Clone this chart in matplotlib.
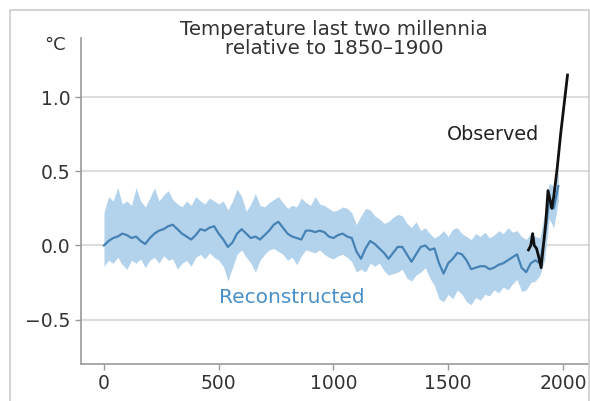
import matplotlib
matplotlib.use("Agg")
import matplotlib.pyplot as plt
from matplotlib.patches import Rectangle

years = list(range(0, 2000, 20))
recon_mean = [0.00, 0.03, 0.05, 0.06, 0.08, 0.07, 0.05, 0.06, 0.03, 0.01,
              0.05, 0.08, 0.10, 0.11, 0.13, 0.14, 0.11, 0.08, 0.06, 0.04,
              0.07, 0.11, 0.10, 0.12, 0.13, 0.08, 0.04, -0.01, 0.02, 0.08,
              0.11, 0.08, 0.05, 0.06, 0.04, 0.07, 0.10, 0.14, 0.16, 0.12,
              0.08, 0.06, 0.05, 0.04, 0.10, 0.10, 0.09, 0.10, 0.09, 0.06,
              0.05, 0.07, 0.08, 0.06, 0.05, -0.04, -0.09, -0.02, 0.03, 0.01,
              -0.02, -0.05, -0.09, -0.05, -0.01, -0.01, -0.06, -0.11, -0.06, -0.01,
              0.00, -0.03, -0.02, -0.12, -0.19, -0.12, -0.09, -0.05, -0.06, -0.10,
              -0.16, -0.15, -0.14, -0.14, -0.16, -0.15, -0.13, -0.12, -0.10, -0.08,
              -0.06, -0.15, -0.18, -0.12, -0.10, -0.12, 0.05, 0.30, 0.25, 0.40]
recon_upper = [0.22, 0.33, 0.30, 0.39, 0.28, 0.30, 0.27, 0.39, 0.30, 0.26,
               0.32, 0.39, 0.30, 0.34, 0.37, 0.31, 0.28, 0.26, 0.30, 0.27,
               0.33, 0.30, 0.28, 0.32, 0.30, 0.28, 0.30, 0.24, 0.30, 0.38,
               0.33, 0.23, 0.28, 0.35, 0.27, 0.26, 0.29, 0.31, 0.33, 0.29,
               0.25, 0.27, 0.26, 0.32, 0.29, 0.27, 0.33, 0.28, 0.27, 0.25,
               0.23, 0.24, 0.26, 0.25, 0.22, 0.14, 0.20, 0.25, 0.24, 0.20,
               0.18, 0.15, 0.16, 0.19, 0.21, 0.20, 0.15, 0.12, 0.16, 0.10,
               0.12, 0.08, 0.05, 0.07, 0.10, 0.06, 0.11, 0.12, 0.08, 0.06,
               0.04, 0.08, 0.06, 0.09, 0.05, 0.07, 0.10, 0.08, 0.12, 0.09,
               0.10, 0.06, 0.04, 0.08, 0.06, 0.05, 0.22, 0.42, 0.40, 0.50]
recon_lower = [-0.14, -0.10, -0.12, -0.08, -0.13, -0.16, -0.10, -0.12, -0.09, -0.15,
               -0.10, -0.08, -0.12, -0.07, -0.10, -0.09, -0.16, -0.12, -0.10, -0.14,
               -0.08, -0.06, -0.09, -0.05, -0.08, -0.10, -0.14, -0.24, -0.15, -0.06,
               -0.03, -0.08, -0.12, -0.18, -0.10, -0.06, -0.03, -0.02, -0.04, -0.06,
               -0.10, -0.08, -0.13, -0.07, -0.03, -0.04, -0.05, -0.03, -0.06, -0.08,
               -0.09, -0.07, -0.06, -0.08, -0.11, -0.18, -0.16, -0.18, -0.12, -0.14,
               -0.12, -0.17, -0.20, -0.19, -0.18, -0.16, -0.22, -0.24, -0.20, -0.18,
               -0.15, -0.22, -0.27, -0.36, -0.38, -0.33, -0.36, -0.30, -0.33, -0.38,
               -0.40, -0.35, -0.37, -0.33, -0.34, -0.30, -0.32, -0.28, -0.30, -0.26,
               -0.23, -0.31, -0.30, -0.25, -0.24, -0.20, -0.10, 0.18, 0.12, 0.30]

obs_years = [1850, 1860, 1868, 1875, 1885, 1895, 1905, 1915, 1925, 1935,
             1945, 1952, 1960, 1975, 1990, 2005, 2020]
obs_vals = [-0.03, 0.00, 0.08, 0.00, -0.02, -0.08, -0.15, 0.00, 0.15, 0.37,
            0.30, 0.25, 0.33, 0.52, 0.75, 0.95, 1.15]

xticks = [0, 500, 1000, 1500, 2000]
yticks = [-0.5, 0.0, 0.5, 1.0]
ytick_labels = ["\u22120.5", "0.0", "0.5", "1.0"]

W, H = 590, 401
fig = plt.figure(figsize=(W / 100, H / 100), dpi=100)
fig.patch.set_facecolor("white")
ax = fig.add_axes([81 / W, 1 - 364 / H, (W - 81) / W, (364 - 38) / H])

band_color = "#b3d3ec"
line_color = "#4682b4"
ax.fill_between(years, recon_lower, recon_upper, color=band_color, linewidth=0, zorder=2)
ax.plot(years, recon_mean, color=line_color, linewidth=1.6, zorder=3)
ax.plot(obs_years, obs_vals, color="#111111", linewidth=2.0, zorder=4)

ax.set_xlim(-100, 2118)
ax.set_ylim(-0.8, 1.4)
ax.set_xticks(xticks)
ax.set_yticks(yticks)
ax.set_yticklabels(ytick_labels)
ax.tick_params(colors="#999999", labelcolor="#333333", labelsize=13.5, length=4, width=1)
ax.grid(axis="y", color="#dddddd", linewidth=1.5, zorder=0)
ax.set_axisbelow(True)
for s in ["top", "right"]:
    ax.spines[s].set_visible(False)
for s in ["left", "bottom"]:
    ax.spines[s].set_color("#999999")
    ax.spines[s].set_linewidth(1.2)

fig.text(334 / W, 1 - 39 / H, "Temperature last two millennia\nrelative to 1850\u20131900",
         ha="center", va="center", fontsize=14.3, color="#333333", linespacing=0.98)
fig.text(55 / W, 1 - 45 / H, "\u00b0C", ha="center", va="center", fontsize=13, color="#333333")
ax.text(1695, 0.75, "Observed", ha="center", va="center", fontsize=13.8, color="#222222")
ax.text(820, -0.35, "Reconstructed", ha="center", va="center", fontsize=14.5, color="#4a90c8")

fig.patches.append(Rectangle((10 / W, -0.1), (589 - 10) / W, 1.1 - 10 / H,
                             transform=fig.transFigure, fill=False,
                             edgecolor="#cccccc", linewidth=1.2))

fig.savefig("out.png", dpi=100)
